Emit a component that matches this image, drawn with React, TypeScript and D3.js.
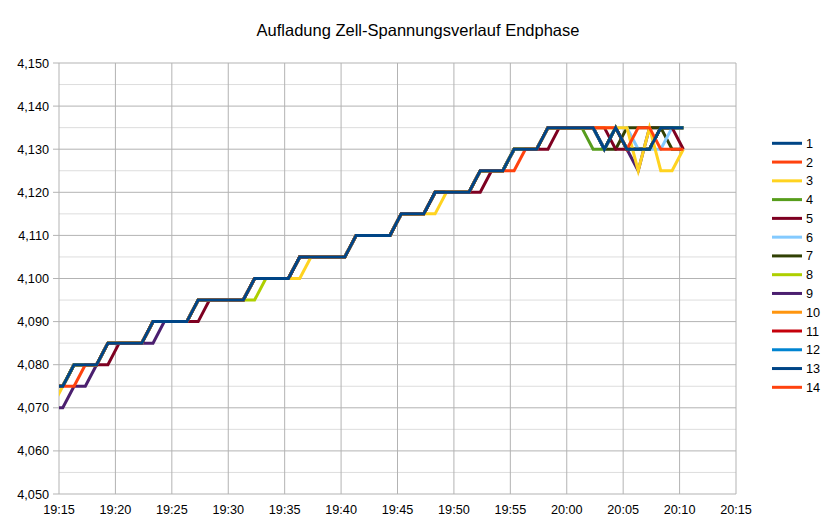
import * as d3 from "d3";

const WIDTH = 832;
const HEIGHT = 529;
const M = { left: 59, right: 96, top: 63, bottom: 35 };
const FONT = "'Liberation Sans', Arial, sans-serif";

const TITLE = "Aufladung Zell-Spannungsverlauf Endphase";

// samples one per minute, first one (19:14:20) lies left of the axis and is clipped
const FIRST_SAMPLE = new Date(2024, 0, 1, 19, 14, 20);
const X_MIN = new Date(2024, 0, 1, 19, 15, 0);
const X_MAX = new Date(2024, 0, 1, 20, 15, 0);
const Y_MIN = 4.05;
const Y_MAX = 4.15;

const SERIES_NAMES = ["1", "2", "3", "4", "5", "6", "7", "8", "9", "10", "11", "12", "13", "14"];
const COLORS = [
  "#004586", "#ff420e", "#ffd320", "#579d1c", "#7e0021", "#83caff", "#314004",
  "#aecf00", "#4b1f6f", "#ff950e", "#c5000b", "#0084d1", "#004586", "#ff420e",
];

// cell voltages [V]
const CELL_1 = [
  4.075, 4.075, 4.080, 4.080, 4.080, 4.085, 4.085, 4.085, 4.085,
  4.090, 4.090, 4.090, 4.090, 4.095, 4.095, 4.095, 4.095, 4.095,
  4.100, 4.100, 4.100, 4.100, 4.105, 4.105, 4.105, 4.105, 4.105,
  4.110, 4.110, 4.110, 4.110, 4.115, 4.115, 4.115, 4.120, 4.120,
  4.120, 4.120, 4.125, 4.125, 4.125, 4.130, 4.130, 4.130, 4.135,
  4.135, 4.135, 4.135, 4.135, 4.130, 4.135, 4.130, 4.130, 4.130, 4.135, 4.135, 4.135,
];
const CELL_2 = [
  4.075, 4.075, 4.075, 4.080, 4.080, 4.085, 4.085, 4.085, 4.085,
  4.090, 4.090, 4.090, 4.090, 4.095, 4.095, 4.095, 4.095, 4.095,
  4.100, 4.100, 4.100, 4.100, 4.105, 4.105, 4.105, 4.105, 4.105,
  4.110, 4.110, 4.110, 4.110, 4.115, 4.115, 4.115, 4.120, 4.120,
  4.120, 4.120, 4.125, 4.125, 4.125, 4.125, 4.130, 4.130, 4.135,
  4.135, 4.135, 4.135, 4.135, 4.135, 4.135, 4.130, 4.135, 4.135, 4.130, 4.130, 4.130,
];
const CELL_3 = [
  4.070, 4.075, 4.080, 4.080, 4.080, 4.085, 4.085, 4.085, 4.085,
  4.090, 4.090, 4.090, 4.090, 4.095, 4.095, 4.095, 4.095, 4.095,
  4.100, 4.100, 4.100, 4.100, 4.100, 4.105, 4.105, 4.105, 4.105,
  4.110, 4.110, 4.110, 4.110, 4.115, 4.115, 4.115, 4.115, 4.120,
  4.120, 4.120, 4.125, 4.125, 4.125, 4.130, 4.130, 4.130, 4.135,
  4.135, 4.135, 4.135, 4.135, 4.135, 4.135, 4.135, 4.125, 4.135, 4.125, 4.125, 4.130,
];
const CELL_4 = [
  4.075, 4.075, 4.080, 4.080, 4.080, 4.085, 4.085, 4.085, 4.085,
  4.090, 4.090, 4.090, 4.090, 4.095, 4.095, 4.095, 4.095, 4.095,
  4.100, 4.100, 4.100, 4.100, 4.105, 4.105, 4.105, 4.105, 4.105,
  4.110, 4.110, 4.110, 4.110, 4.115, 4.115, 4.115, 4.120, 4.120,
  4.120, 4.120, 4.125, 4.125, 4.125, 4.130, 4.130, 4.130, 4.135,
  4.135, 4.135, 4.135, 4.130, 4.130, 4.135, 4.130, 4.130, 4.130, 4.135, 4.135, 4.135,
];
const CELL_5 = [
  4.075, 4.075, 4.080, 4.080, 4.080, 4.080, 4.085, 4.085, 4.085,
  4.090, 4.090, 4.090, 4.090, 4.090, 4.095, 4.095, 4.095, 4.095,
  4.100, 4.100, 4.100, 4.100, 4.105, 4.105, 4.105, 4.105, 4.105,
  4.110, 4.110, 4.110, 4.110, 4.115, 4.115, 4.115, 4.120, 4.120,
  4.120, 4.120, 4.120, 4.125, 4.125, 4.130, 4.130, 4.130, 4.130,
  4.135, 4.135, 4.135, 4.135, 4.135, 4.130, 4.130, 4.130, 4.130, 4.135, 4.135, 4.130,
];
const CELL_6 = [
  4.075, 4.075, 4.080, 4.080, 4.080, 4.085, 4.085, 4.085, 4.085,
  4.090, 4.090, 4.090, 4.090, 4.095, 4.095, 4.095, 4.095, 4.095,
  4.100, 4.100, 4.100, 4.100, 4.105, 4.105, 4.105, 4.105, 4.105,
  4.110, 4.110, 4.110, 4.110, 4.115, 4.115, 4.115, 4.120, 4.120,
  4.120, 4.120, 4.125, 4.125, 4.125, 4.130, 4.130, 4.130, 4.135,
  4.135, 4.135, 4.135, 4.135, 4.130, 4.135, 4.135, 4.130, 4.130, 4.130, 4.135, 4.135,
];
const CELL_7 = [
  4.075, 4.075, 4.080, 4.080, 4.080, 4.085, 4.085, 4.085, 4.085,
  4.090, 4.090, 4.090, 4.090, 4.095, 4.095, 4.095, 4.095, 4.095,
  4.100, 4.100, 4.100, 4.100, 4.105, 4.105, 4.105, 4.105, 4.105,
  4.110, 4.110, 4.110, 4.110, 4.115, 4.115, 4.115, 4.120, 4.120,
  4.120, 4.120, 4.125, 4.125, 4.125, 4.130, 4.130, 4.130, 4.135,
  4.135, 4.135, 4.135, 4.135, 4.130, 4.130, 4.135, 4.135, 4.135, 4.135, 4.130, 4.130,
];
const CELL_8 = [
  4.075, 4.075, 4.080, 4.080, 4.080, 4.085, 4.085, 4.085, 4.085,
  4.090, 4.090, 4.090, 4.090, 4.095, 4.095, 4.095, 4.095, 4.095,
  4.095, 4.100, 4.100, 4.100, 4.105, 4.105, 4.105, 4.105, 4.105,
  4.110, 4.110, 4.110, 4.110, 4.115, 4.115, 4.115, 4.120, 4.120,
  4.120, 4.120, 4.125, 4.125, 4.125, 4.130, 4.130, 4.130, 4.135,
  4.135, 4.135, 4.135, 4.135, 4.130, 4.135, 4.130, 4.130, 4.130, 4.135, 4.135, 4.135,
];
const CELL_9 = [
  4.070, 4.070, 4.075, 4.075, 4.080, 4.085, 4.085, 4.085, 4.085,
  4.085, 4.090, 4.090, 4.090, 4.095, 4.095, 4.095, 4.095, 4.095,
  4.100, 4.100, 4.100, 4.100, 4.105, 4.105, 4.105, 4.105, 4.105,
  4.110, 4.110, 4.110, 4.110, 4.115, 4.115, 4.115, 4.120, 4.120,
  4.120, 4.120, 4.125, 4.125, 4.125, 4.130, 4.130, 4.130, 4.135,
  4.135, 4.135, 4.135, 4.135, 4.130, 4.135, 4.130, 4.125, 4.135, 4.135, 4.135, 4.135,
];
const CELL_10 = CELL_1.slice();
const CELL_11 = CELL_1.slice();
const CELL_12 = CELL_1.slice();
const CELL_13 = CELL_1.slice();
const CELL_14 = CELL_1.slice();

const CELLS = [
  CELL_1, CELL_2, CELL_3, CELL_4, CELL_5, CELL_6, CELL_7,
  CELL_8, CELL_9, CELL_10, CELL_11, CELL_12, CELL_13, CELL_14,
];

const de = d3.formatLocale({ decimal: ",", thousands: ".", grouping: [3], currency: ["", " €"] });
const fmtY = de.format(".3f");
const fmtX = d3.timeFormat("%H:%M");

export default function App() {
  const x = d3.scaleTime().domain([X_MIN, X_MAX]).range([M.left, WIDTH - M.right]);
  const y = d3.scaleLinear().domain([Y_MIN, Y_MAX]).range([HEIGHT - M.bottom, M.top]);

  const majorY = d3.range(0, 11).map((i) => +(Y_MIN + i * 0.01).toFixed(3));
  const minorY = d3.range(0, 10).map((i) => +(Y_MIN + 0.005 + i * 0.01).toFixed(3));
  const xTicks = d3.timeMinute.every(5)!.range(X_MIN, d3.timeMinute.offset(X_MAX, 1));

  const line = d3
    .line<number>()
    .x((_, i) => x(d3.timeMinute.offset(FIRST_SAMPLE, i)))
    .y((v) => y(v));

  const x0 = M.left;
  const x1 = WIDTH - M.right;
  const y0 = M.top;
  const y1 = HEIGHT - M.bottom;

  // series 1 ends up on top, so paint the list from the back
  const order = d3.range(CELLS.length).reverse();

  return (
    <div style={{ position: "fixed", left: 0, top: 0 }}>
      <svg width={WIDTH} height={HEIGHT} style={{ display: "block", background: "#fff" }} fontFamily={FONT}>
        <defs>
          <clipPath id="plot">
            <rect x={x0} y={y0 - 2} width={x1 - x0} height={y1 - y0 + 4} />
          </clipPath>
        </defs>

        <text x={418} y={36} textAnchor="middle" fontSize={16.5} fill="#000">
          {TITLE}
        </text>

        {minorY.map((v) => (
          <line key={"m" + v} x1={x0} x2={x1} y1={y(v)} y2={y(v)} stroke="#dddddd" strokeWidth={1} />
        ))}
        {xTicks.map((t) => (
          <line key={"x" + t.getTime()} x1={x(t)} x2={x(t)} y1={y0} y2={y1} stroke="#b3b3b3" strokeWidth={1} />
        ))}
        {majorY.map((v) => (
          <line key={"y" + v} x1={x0 - 6} x2={x1} y1={y(v)} y2={y(v)} stroke="#b3b3b3" strokeWidth={1} />
        ))}

        {majorY.map((v) => (
          <text key={"yl" + v} x={x0 - 10} y={y(v) + 4.5} textAnchor="end" fontSize={12.7} fill="#000">
            {fmtY(v)}
          </text>
        ))}
        {xTicks.map((t) => (
          <text key={"xl" + t.getTime()} x={x(t)} y={y1 + 20} textAnchor="middle" fontSize={12.7} fill="#000">
            {fmtX(t)}
          </text>
        ))}

        <g clipPath="url(#plot)">
          {order.map((i) => (
            <path
              key={SERIES_NAMES[i]}
              d={line(CELLS[i]) ?? ""}
              fill="none"
              stroke={COLORS[i]}
              strokeWidth={3}
              strokeLinejoin="miter"
            />
          ))}
        </g>

        {SERIES_NAMES.map((name, i) => {
          const ly = 143.3 + i * 18.77;
          return (
            <g key={"lg" + name}>
              <line x1={772} x2={802} y1={ly} y2={ly} stroke={COLORS[i]} strokeWidth={3} />
              <text x={806} y={ly + 4.5} fontSize={12.7} fill="#000">
                {name}
              </text>
            </g>
          );
        })}
      </svg>
    </div>
  );
}
